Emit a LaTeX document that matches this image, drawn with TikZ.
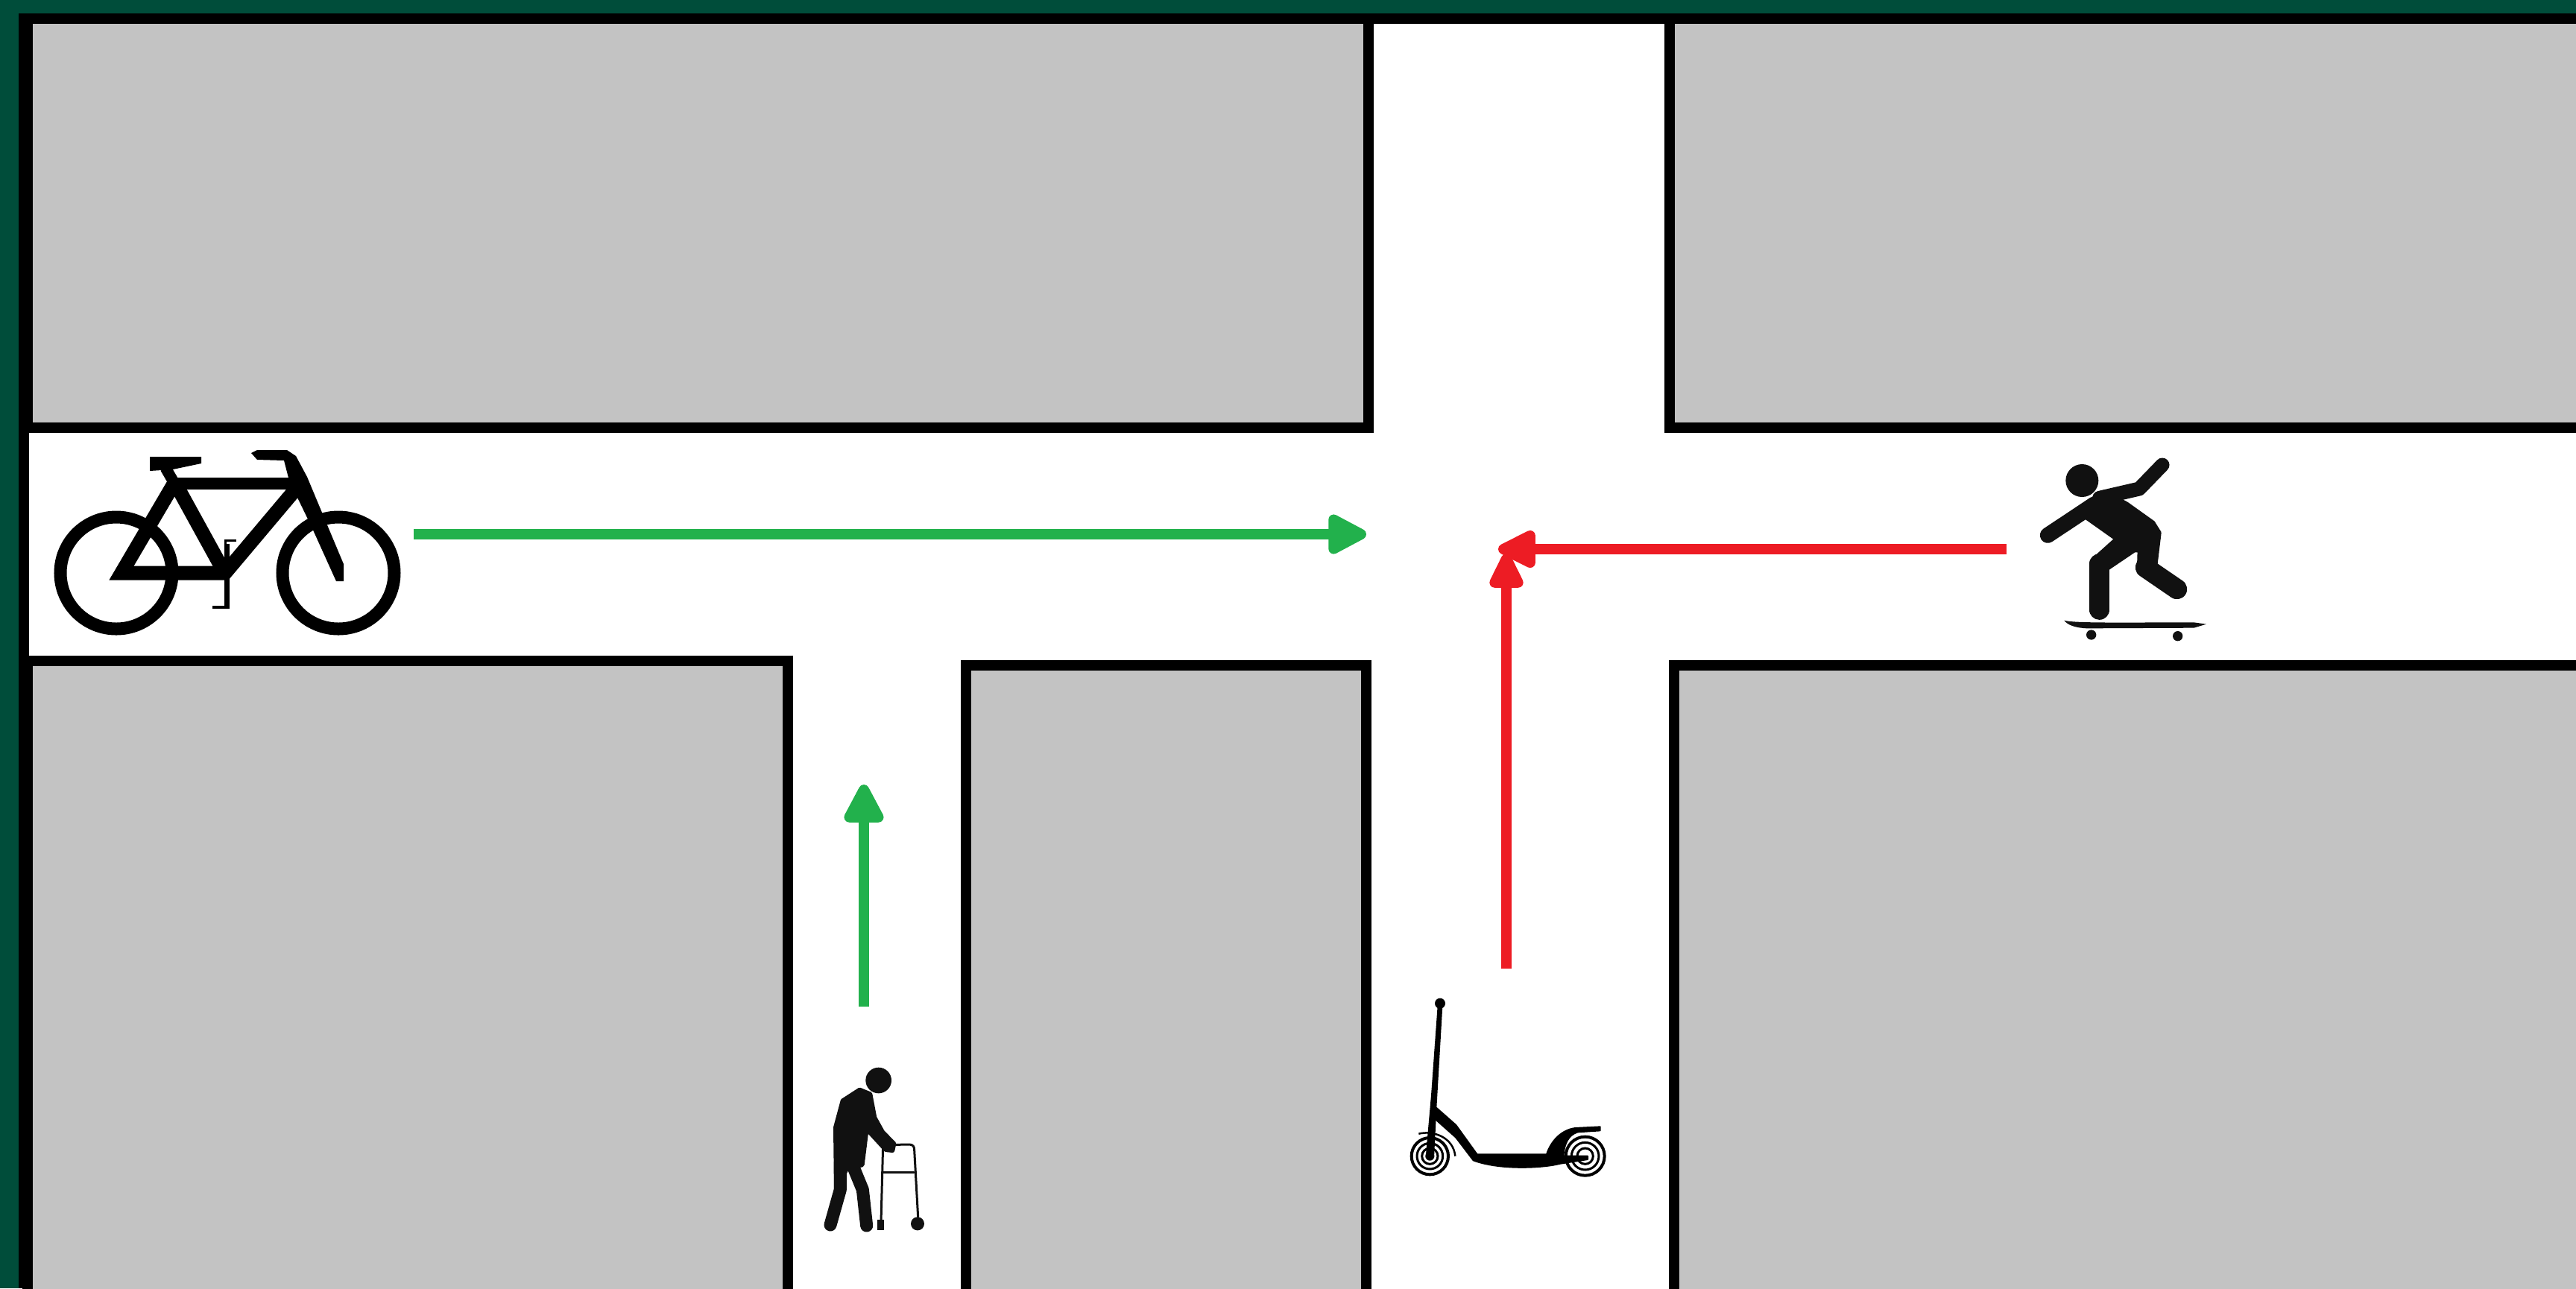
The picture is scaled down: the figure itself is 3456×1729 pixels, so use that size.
\documentclass[tikz,border=0pt]{standalone}
\usetikzlibrary{arrows.meta}
\definecolor{framegreen}{HTML}{004D3A}
\definecolor{blockgray}{HTML}{C3C3C3}
\definecolor{goarrow}{HTML}{22B14C}
\definecolor{stoparrow}{HTML}{ED1C24}
\definecolor{iconblack}{HTML}{111111}
\tikzset{
  lw/.style={line width=#1*0.2845pt},
  block/.style={draw=black,fill=blockgray,lw=14,line join=miter},
  strip/.style={fill=black,draw=none},
  ink/.style={fill=iconblack,draw=iconblack,lw=#1,line join=round},
  inkline/.style={draw=iconblack,line cap=round,line join=round,lw=#1},
  bikeline/.style={draw=black,line join=miter,lw=#1},
  goline/.style={draw=goarrow,lw=14,
    -{Triangle[round,length=17pt,width=16.5pt]}},
  stophoriz/.style={draw=stoparrow,lw=14,
    -{Triangle[round,length=17pt,width=15.5pt]}},
  stopvert/.style={draw=stoparrow,lw=14,
    -{Triangle[round,length=16pt,width=14pt]}},
}
\begin{document}
\begin{tikzpicture}[x=0.01cm,y=-0.01cm]
\useasboundingbox (0,0) rectangle (3456,1729);
\clip (0,0) rectangle (3456,1729);
\fill[framegreen] (0,0) rectangle (3456,1729);
\fill[white] (25,18) rectangle (3456,1729);
% blocks
\draw[block] (37,25) rectangle (1836,574);
\draw[block] (2240,25) rectangle (3520,574);
\draw[block] (37,887) rectangle (1056.5,1800);
\draw[block] (1295.5,893) rectangle (1833,1800);
\draw[block] (2246,893) rectangle (3520,1800);
\fill[strip] (25,18) rectangle (3456,32);
\fill[strip] (25,18) rectangle (39,1729);

% arrows
\coordinate (bikeEnd) at (555,717);
\coordinate (bikeTip) at (1833,717);
\coordinate (walkEnd) at (1159,1351);
\coordinate (walkTip) at (1159,1053);
\coordinate (skateEnd) at (2692,737);
\coordinate (skateTip) at (2010,737);
\coordinate (scootEnd) at (2021,1300);
\coordinate (scootTip) at (2021,743);
\draw[goline] (bikeEnd) -- (bikeTip);
\draw[goline] (walkEnd) -- (walkTip);
\draw[stophoriz] (skateEnd) -- (skateTip);
\draw[stopvert] (scootEnd) -- (scootTip);

% bicycle
\draw[bikeline=17] (156,769) circle[radius=75];
\draw[bikeline=17] (454,769) circle[radius=75];
\draw[bikeline=16] (233,649) -- (394,649);
\draw[bikeline=19] (234,648) -- (163,769) -- (302,769) -- (398,655);
\draw[bikeline=19] (236,650) -- (302,770);
\fill[black] (201,613) -- (270,613) -- (270,622) -- (232,630) -- (201,632) -- cycle;
\draw[bikeline=15] (222,628) -- (236,652);
\fill[black] (337,608) -- (345,604) -- (385,604) -- (397,612) -- (412,640) -- (440,707) -- (461,757)
  -- (461,780) -- (451,780) -- (418,707) -- (388,645) -- (381,618) -- (345,617) -- cycle;
\draw[bikeline=7] (304,730) -- (304,817);
\draw[bikeline=3] (317,725) -- (302,725) -- (302,735);
\draw[bikeline=3.5] (285,815) -- (306,815);

% skateboarder
\begin{scope}[shift={(2650,580)},scale=1/3]
\fill[iconblack] (430,195) circle[radius=66];
\draw[inkline=21] (292,415) -- (480,290);
\draw[inkline=19] (500,265) -- (660,228) -- (753,132);
\filldraw[ink=6] (450,290) -- (520,240) -- (610,290) -- (715,365) -- (740,405) -- (725,530)
  -- (660,540) -- (662,475) -- (640,475)
  -- (532,548) -- (470,520) -- (570,430) -- (450,345) -- cycle;
\draw[inkline=27] (500,530) -- (500,715);
\draw[inkline=27] (685,545) -- (812,632);
\fill[iconblack] (358,758) .. controls (400,770) and (600,766) .. (880,766) -- (930,773) -- (880,788)
  -- (450,790) .. controls (400,788) and (370,775) .. (358,758) -- cycle;
\fill[iconblack] (467,816) circle[radius=20];
\fill[iconblack] (815,821) circle[radius=20];
\end{scope}

% walker
\begin{scope}[shift={(1040,1400)},scale=1/3]
\fill[iconblack] (416,150) circle[radius=52];
\filldraw[ink=6] (340,188) -- (382,205) -- (400,300) -- (432,358) -- (478,405) -- (472,432)
  -- (445,429) -- (368,345) -- (350,490) -- (288,505) -- (246,590)
  -- (243,340) -- (272,232) -- cycle;
\draw[inkline=17] (262,480) -- (262,590) -- (222,732);
\draw[inkline=17] (315,500) -- (352,590) -- (368,735);
\draw[inkline=3] (426,720) -- (434,410) -- (540,408) .. controls (555,408) and (560,418) .. (560,430) -- (575,700);
\draw[inkline=3.5] (434,520) -- (558,520);
\fill[iconblack] (412,712) rectangle (438,752);
\fill[iconblack] (573,727) circle[radius=27];
\end{scope}

% scooter
\begin{scope}[shift={(1860,1320)},scale=1/3]
\fill[black] (216,80) circle[radius=21];
\fill[black] (206,90) -- (226,90) -- (202,500) -- (192,700) -- (158,700) -- (180,450) -- cycle;
\foreach \cx/\ra/\rb/\rc in {175/74/52/32,800/78/55/32}{
  \draw[black,lw=4] (\cx,695) circle[radius=\ra];
  \draw[black,lw=3] (\cx,695) circle[radius=\rb];
  \draw[black,lw=3] (\cx,695) circle[radius=\rc];
}
\fill[black] (175,695) circle[radius=18];
\draw[black,lw=2.5] (130,605) .. controls (190,590) and (270,620) .. (277,695);
\filldraw[black,lw=2,line join=round] (195,495) -- (280,570) -- (365,688) -- (645,688) .. controls (660,640) and (700,590) .. (760,582)
  -- (860,577) -- (860,592) -- (770,598) .. controls (730,610) and (715,650) .. (712,695) -- (810,695) -- (810,708)
  -- (700,725) .. controls (620,745) and (450,750) .. (350,712) -- (280,620) -- (190,540) -- cycle;
\end{scope}
\end{tikzpicture}
\end{document}
